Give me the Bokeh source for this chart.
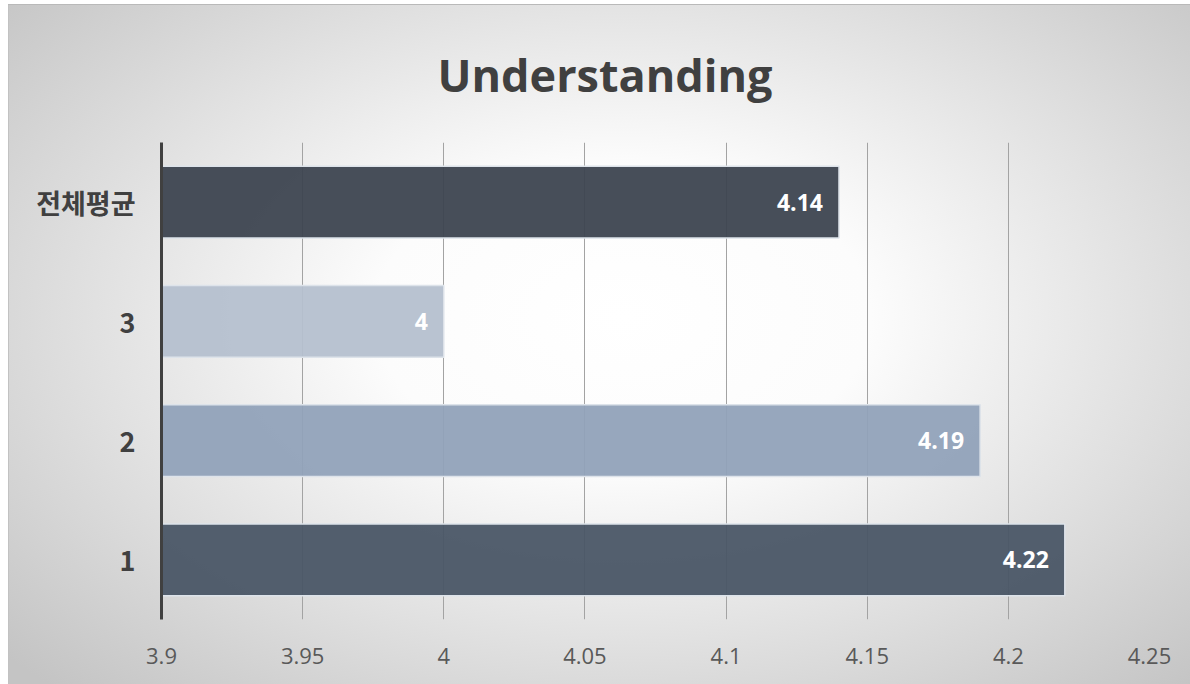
from bokeh.plotting import figure
from bokeh.models import ColumnDataSource, FactorRange, Range1d, FixedTicker, LabelSet
from bokeh.core.properties import value
from bokeh.embed import file_html
from bokeh.resources import INLINE

# Survey results: mean "Understanding" score by group
categories = ["1", "2", "3", "전체평균"]
scores = [4.22, 4.19, 4.0, 4.14]
bar_colors = ["#4a5666", "#91a2b9", "#b5c0cf", "#3d4450"]
tick_values = [3.9, 3.95, 4.0, 4.05, 4.1, 4.15, 4.2, 4.25]
tick_labels = ["3.9", "3.95", "4", "4.05", "4.1", "4.15", "4.2", "4.25"]

source = ColumnDataSource(dict(
    cat=categories,
    score=scores,
    color=bar_colors,
    label=[f"{v:g}" for v in scores],
))

LATIN = "Open Sans"
KOREAN = "Noto Sans CJK KR"

p = figure(
    width=1182, height=680,
    y_range=FactorRange(factors=categories, range_padding=0),
    x_range=Range1d(tick_values[0], tick_values[-1]),
    output_backend="svg", toolbar_location=None,
    min_border_left=153, min_border_right=41,
    min_border_top=137, min_border_bottom=65,
)

# Soft radial backdrop behind the transparent canvas
p.styles = {
    "margin-left": "8px",
    "margin-top": "4px",
    "background": "radial-gradient(ellipse 70% 75% at 52% 46%, #ffffff 0%, #fcfcfc 30%, #c4c4c4 100%)",
    "box-shadow": "inset 0 1px 0 #b9b9b9, inset 1px 0 0 #c2c2c2",
}
p.background_fill_alpha = 0
p.border_fill_alpha = 0
p.outline_line_color = None

p.title.text = "Understanding"
p.title.align = "left"
p.title.offset = 276
p.title.standoff = 75
p.title.text_font = LATIN
p.title.text_font_size = "45px"
p.title.text_font_style = "bold"
p.title.text_color = "#404040"

p.hbar(y="cat", left=tick_values[0], right="score", height=0.6, source=source,
       fill_color="color", fill_alpha=0.95, line_color="#dde3ea", line_width=1.5)

labels = LabelSet(x="score", y="cat", text="label", source=source,
                  x_offset=-16, text_align="right", text_baseline="middle",
                  text_color="white", text_font=value(LATIN),
                  text_font_style="bold", text_font_size="23px")
p.add_layout(labels)

# x axis: tick labels only, vertical grid lines
p.xaxis.ticker = FixedTicker(ticks=tick_values)
p.xaxis.major_label_overrides = {v: s for v, s in zip(tick_values, tick_labels)}
p.xaxis.axis_line_color = None
p.xaxis.major_tick_line_color = None
p.xaxis.minor_tick_line_color = None
p.xaxis.major_label_standoff = 22
p.xaxis.major_label_text_font = LATIN
p.xaxis.major_label_text_font_size = "22px"
p.xaxis.major_label_text_color = "#595959"

p.xgrid.ticker = FixedTicker(ticks=tick_values)
p.xgrid.grid_line_color = "#a3a3a3"
p.xgrid.grid_line_width = 1
p.ygrid.grid_line_color = None

# y axis: category names with a heavy baseline
p.yaxis.axis_line_color = "#404040"
p.yaxis.axis_line_width = 3
p.yaxis.major_tick_line_color = None
p.yaxis.minor_tick_line_color = None
p.yaxis.major_label_standoff = 20
p.yaxis.major_label_text_font = KOREAN
p.yaxis.major_label_text_font_size = "27px"
p.yaxis.major_label_text_font_style = "bold"
p.yaxis.major_label_text_color = "#404040"

open("out.html", "w").write(file_html(p, INLINE))
